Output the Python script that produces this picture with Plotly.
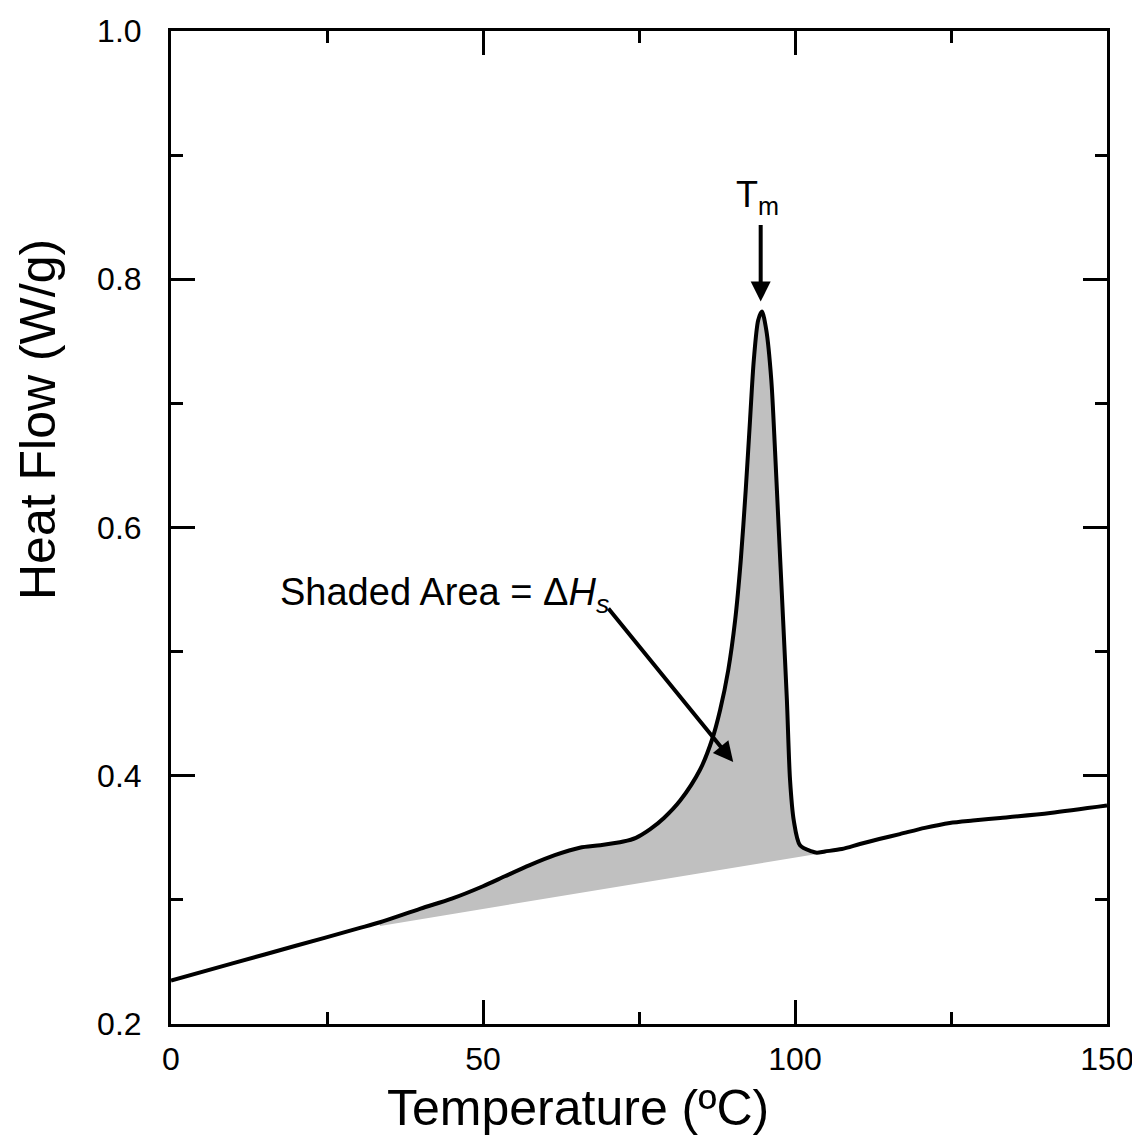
import plotly.graph_objects as go

# DSC trace
temp = [0, 10, 20, 30, 33.5, 40, 45, 50, 53.5, 57.5, 61.5, 65.5, 68.8, 72.5,
        74.5, 76.8, 79.0, 81.6, 84.8, 86.7, 88.0, 89.3, 90.4, 91.3, 92.1,
        92.8, 93.4, 94.1, 94.7, 95.4, 96.2, 96.8, 97.4, 98.1, 98.7, 99.2,
        99.8, 100.8, 102.7, 103.5, 104.8, 107.5, 110.4, 113.5, 116.8, 120.8,
        124.8, 128.5, 132.9, 140.9, 150]
heat_flow = [0.235, 0.249, 0.263, 0.277, 0.282, 0.293, 0.301, 0.311, 0.319,
             0.328, 0.336, 0.342, 0.344, 0.347, 0.350, 0.357, 0.366, 0.380,
             0.405, 0.429, 0.453, 0.485, 0.525, 0.573, 0.630, 0.687, 0.735,
             0.767, 0.774, 0.759, 0.719, 0.662, 0.598, 0.525, 0.461, 0.397,
             0.364, 0.344, 0.339, 0.338, 0.339, 0.341, 0.345, 0.349, 0.353,
             0.358, 0.362, 0.364, 0.366, 0.370, 0.376]

# straight baseline under the melting peak
base_temp = [33.5, 103.5]
base_flow = [0.279, 0.337]

tm_temp = 94.5

seg = [(t, h) for t, h in zip(temp, heat_flow) if base_temp[0] <= t <= base_temp[1]]
seg_t = [s[0] for s in seg]
seg_h = [s[1] for s in seg]

fig = go.Figure()
fig.add_trace(go.Scatter(x=base_temp, y=base_flow, mode='lines',
                         line=dict(width=0, color='#c0c0c0'), hoverinfo='skip'))
fig.add_trace(go.Scatter(x=seg_t, y=seg_h, mode='lines', fill='tonexty',
                         fillcolor='#c0c0c0', line=dict(width=0, shape='spline', smoothing=0.8),
                         hoverinfo='skip'))
fig.add_trace(go.Scatter(x=temp, y=heat_flow, mode='lines',
                         line=dict(color='black', width=4, shape='spline', smoothing=0.8)))

font = "Liberation Sans, Arial, sans-serif"
axis_common = dict(showline=True, linewidth=3, linecolor='black', mirror='ticks',
                   ticks='inside', ticklen=24, tickwidth=3, tickcolor='black',
                   showgrid=False, zeroline=False, automargin=False,
                   tickfont=dict(family=font, size=32, color='black'))

# page body adds ~8px offset, so size/margins are trimmed to keep the plot box in place
fig.update_layout(
    width=1132, height=1129,
    margin=dict(l=163, r=33, t=23, b=113),
    paper_bgcolor='white', plot_bgcolor='white',
    showlegend=False,
    xaxis=dict(range=[0, 150], tickvals=[0, 50, 100, 150], ticklabelstandoff=5,
               minor=dict(tickvals=[25, 75, 125], ticklen=12, tickwidth=3,
                          tickcolor='black', ticks='inside'),
               **axis_common),
    yaxis=dict(range=[0.2, 1.0], tickvals=[0.2, 0.4, 0.6, 0.8, 1.0], tickformat='.1f',
               ticklabelstandoff=20,
               minor=dict(tickvals=[0.3, 0.5, 0.7, 0.9], ticklen=12, tickwidth=3,
                          tickcolor='black', ticks='inside'),
               **axis_common),
    annotations=[
        dict(text="Temperature (ºC)", xref='paper', yref='paper', x=(578 - 171) / 936,
             y=0, yshift=-84, xanchor='center', yanchor='middle', showarrow=False,
             font=dict(family=font, size=50, color='black')),
        dict(text="Heat Flow (W/g)", xref='paper', yref='paper', x=0, xshift=-133,
             y=(1024 - 420) / 993, xanchor='center', yanchor='middle', textangle=-90,
             showarrow=False, font=dict(family=font, size=50, color='black')),
        dict(text="Shaded Area = Δ<i>H</i><sub><i>s</i></sub>", x=(278 - 171) / 6.24, y=0.546,
             xanchor='left', showarrow=False, font=dict(family=font, size=38, color='black')),
        dict(text="", x=90.1, y=0.411, ax=69.9, ay=0.536, axref='x', ayref='y',
             showarrow=True, arrowhead=2, arrowsize=1, arrowwidth=4, arrowcolor='black'),
        dict(text="T<sub>m</sub>", x=tm_temp - 0.5, y=0.866, showarrow=False,
             font=dict(family=font, size=36, color='black')),
        dict(text="", x=tm_temp, y=0.782, ax=tm_temp, ay=0.845, axref='x', ayref='y',
             showarrow=True, arrowhead=2, arrowsize=1, arrowwidth=4, arrowcolor='black'),
    ],
)

fig.write_html("out.html")
